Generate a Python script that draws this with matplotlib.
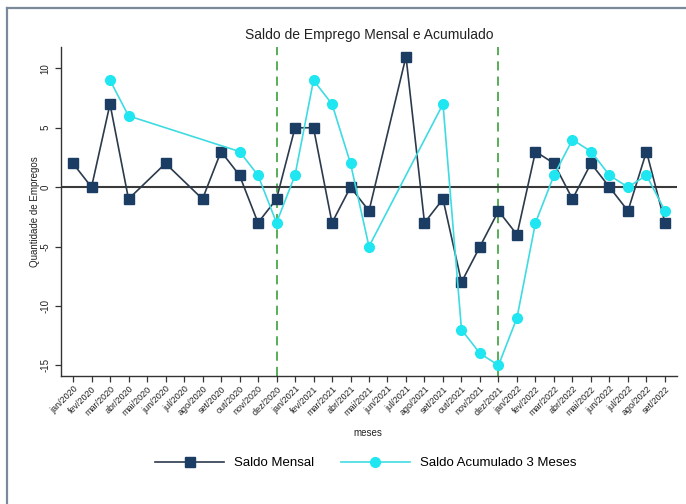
import numpy as np
import matplotlib
matplotlib.use("Agg")
import matplotlib.pyplot as plt
from matplotlib.lines import Line2D

plt.rcParams['font.family'] = ['Liberation Sans', 'DejaVu Sans']

meses = ["jan/2020", "fev/2020", "mar/2020", "abr/2020", "mai/2020", "jun/2020",
         "jul/2020", "ago/2020", "set/2020", "out/2020", "nov/2020", "dez/2020",
         "jan/2021", "fev/2021", "mar/2021", "abr/2021", "mai/2021", "jun/2021",
         "jul/2021", "ago/2021", "set/2021", "out/2021", "nov/2021", "dez/2021",
         "jan/2022", "fev/2022", "mar/2022", "abr/2022", "mai/2022", "jun/2022",
         "jul/2022", "ago/2022", "set/2022"]

nan = np.nan
saldo_mensal = [2, 0, 7, -1, nan, 2, nan, -1, 3, 1, -3, -1,
                5, 5, -3, 0, -2, nan, 11, -3, -1, -8, -5, -2,
                -4, 3, 2, -1, 2, 0, -2, 3, -3]
saldo_acum3 = [nan, nan, 9, 6, nan, nan, nan, nan, nan, 3, 1, -3,
               1, 9, 7, 2, -5, nan, nan, nan, 7, -12, -14, -15,
               -11, -3, 1, 4, 3, 1, 0, 1, -2]
linhas_verticais = ["dez/2020", "dez/2021"]

fig = plt.figure(figsize=(6.86, 5.04), dpi=100)
fig.patch.set_facecolor('white')

# outer frame (top and left edges visible)
fig.add_artist(Line2D([7/686, 7/686], [0, 1 - 8/504], transform=fig.transFigure,
                      color='#7a8a9a', lw=1.6))
fig.add_artist(Line2D([7/686, 1], [1 - 8/504, 1 - 8/504], transform=fig.transFigure,
                      color='#7a8a9a', lw=1.6))

ax = fig.add_axes([61/686, 1 - 376/504, (677 - 61)/686, (376 - 47)/504])
ax.set_facecolor('white')

x = np.arange(len(meses))
ym = np.array(saldo_mensal, dtype=float)
ya = np.array(saldo_acum3, dtype=float)

for m in linhas_verticais:
    ax.axvline(meses.index(m), color='#2a9a2a', lw=1.1, ls=(0, (6, 4)), zorder=1)
ax.axhline(0, color='#3a3a3a', lw=1.5, zorder=1)

mm = ~np.isnan(ym)
ax.plot(x[mm], ym[mm], color='#2b3a4c', lw=1.2, marker='s', markersize=7,
        markerfacecolor='#1b3d63', markeredgecolor='#1b3d63', zorder=3,
        label='Saldo Mensal')
ma = ~np.isnan(ya)
ax.plot(x[ma], ya[ma], color='#3edbe3', lw=1.2, marker='o', markersize=7,
        markerfacecolor='#1fe6f0', markeredgecolor='#1fe6f0', zorder=4,
        label='Saldo Acumulado 3 Meses')

ax.set_xlim(-0.65, 32.65)
ax.set_ylim(-15.9, 11.8)
ax.set_xticks(x)
ax.set_xticklabels(meses, rotation=45, ha='right', rotation_mode='anchor',
                   fontsize=6.5, color='#222222')
ax.set_yticks([-15, -10, -5, 0, 5, 10])
ax.set_yticklabels(['-15', '-10', '-5', '0', '5', '10'], rotation=90, va='center',
                   fontsize=7, color='#222222')
ax.tick_params(axis='both', direction='out', length=4, width=0.9, color='#333333')
ax.tick_params(axis='x', pad=2)
for s in ['top', 'right']:
    ax.spines[s].set_visible(False)
for s in ['left', 'bottom']:
    ax.spines[s].set_color('#333333')
    ax.spines[s].set_linewidth(1.0)

ax.set_ylabel('Quantidade de Empregos', fontsize=7, color='#222222')
ax.yaxis.set_label_coords(-21/616, 0.5)
fig.text(368/686, 1 - 433/504, 'meses', fontsize=7, color='#222222',
         ha='center', va='center')
fig.text(369/686, 1 - 35/504, 'Saldo de Emprego Mensal e Acumulado', fontsize=10,
         color='#222222', ha='center', va='center')

fig.legend(loc='center', bbox_to_anchor=(366/686, 1 - 463/504), ncol=2,
           frameon=False, fontsize=9.5, handlelength=5.2, columnspacing=2.0,
           handletextpad=0.8)

fig.savefig('out.png', dpi=100)
